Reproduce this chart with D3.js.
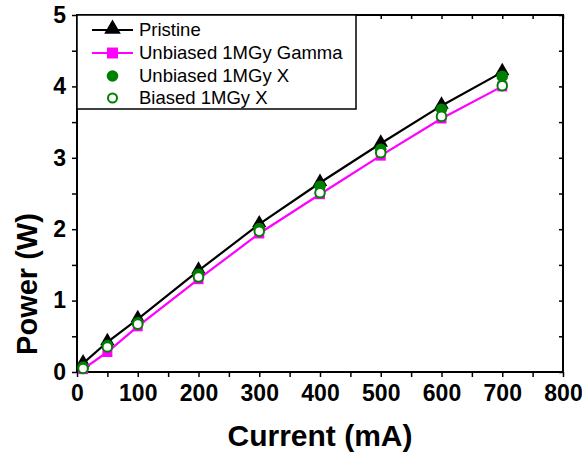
<!DOCTYPE html>
<html><head><meta charset="utf-8">
<script src="https://cdn.jsdelivr.net/npm/d3@7"></script>
<style>body{margin:0;background:#fff}svg{display:block}</style>
</head><body>
<script>
const currents = [10, 50, 100, 200, 300, 400, 500, 600, 700];
const pristine = [0.12, 0.42, 0.74, 1.42, 2.07, 2.65, 3.20, 3.73, 4.20];
const gamma = [0.04, 0.28, 0.64, 1.30, 1.94, 2.49, 3.03, 3.55, 4.00];
const unbiasedX = [0.07, 0.37, 0.69, 1.37, 2.01, 2.60, 3.12, 3.68, 4.14];
const biasedX = [0.05, 0.35, 0.67, 1.33, 1.97, 2.51, 3.07, 3.58, 4.01];
const xTicks = [0, 100, 200, 300, 400, 500, 600, 700, 800];
const yTicks = [0, 1, 2, 3, 4, 5];
const legendLabels = ["Pristine", "Unbiased 1MGy Gamma", "Unbiased 1MGy X", "Biased 1MGy X"];

const W = 582, H = 457;
const L = 77, R = 563, T = 15, B = 372;
const svg = d3.select("body").append("svg").attr("width", W).attr("height", H);
const x = d3.scaleLinear().domain([0, 800]).range([L, R]);
const y = d3.scaleLinear().domain([0, 5]).range([B, T]);
const font = "'Liberation Sans', Arial, sans-serif";
const green = "#008000", magenta = "#ff00ff";

const xMinor = d3.range(0, 801, 50);
const yMinor = d3.range(0, 5.01, 0.5);

// bottom axis
const gb = svg.append("g").attr("transform", `translate(0,${B})`)
  .call(d3.axisBottom(x).tickValues(xMinor).tickSize(5).tickFormat(""));
gb.select(".domain").remove();
gb.selectAll("line").attr("stroke-width", 1.5);
const gb2 = svg.append("g").attr("transform", `translate(0,${B})`)
  .call(d3.axisBottom(x).tickValues(xTicks).tickSize(0).tickPadding(13).tickFormat(d3.format("d")));
gb2.select(".domain").remove();
gb2.selectAll("text").attr("font-family", font).attr("font-weight", "bold").attr("font-size", 23).attr("fill", "#000");

// left axis
const gl = svg.append("g").attr("transform", `translate(${L},0)`)
  .call(d3.axisLeft(y).tickValues(yMinor).tickSize(5).tickFormat(""));
gl.select(".domain").remove();
gl.selectAll("line").attr("stroke-width", 1.5);
const gl2 = svg.append("g").attr("transform", `translate(${L},0)`)
  .call(d3.axisLeft(y).tickValues(yTicks).tickSize(0).tickPadding(11).tickFormat(d3.format("d")));
gl2.select(".domain").remove();
gl2.selectAll("text").attr("font-family", font).attr("font-weight", "bold").attr("font-size", 23).attr("fill", "#000");

// top and right mirror (inward ticks)
const gt = svg.append("g").attr("transform", `translate(0,${T})`)
  .call(d3.axisBottom(x).tickValues(xMinor).tickSize(4).tickFormat(""));
gt.select(".domain").remove();
gt.selectAll("line").attr("stroke-width", 1.5);
const gr = svg.append("g").attr("transform", `translate(${R},0)`)
  .call(d3.axisLeft(y).tickValues(yMinor).tickSize(4).tickFormat(""));
gr.select(".domain").remove();
gr.selectAll("line").attr("stroke-width", 1.5);

// frame
svg.append("rect").attr("x", L).attr("y", T).attr("width", R - L).attr("height", B - T)
  .attr("fill", "none").attr("stroke", "#000").attr("stroke-width", 2);

// axis titles
svg.append("text").attr("x", (L + R) / 2).attr("y", 446).attr("text-anchor", "middle")
  .attr("font-family", font).attr("font-weight", "bold").attr("font-size", 30).text("Current (mA)");
svg.append("text").attr("transform", "translate(37,284) rotate(-90)").attr("text-anchor", "middle")
  .attr("font-family", font).attr("font-weight", "bold").attr("font-size", 29).text("Power (W)");

const line = d3.line().x(d => x(d[0])).y(d => y(d[1]));
const zip = arr => currents.map((c, i) => [c, arr[i]]);
const tri = d3.symbol().type(d3.symbolTriangle).size(90);
const sq = d3.symbol().type(d3.symbolSquare).size(100);

// Pristine
svg.append("path").attr("d", line(zip(pristine))).attr("fill", "none").attr("stroke", "#000").attr("stroke-width", 2.2);
svg.append("g").selectAll("path").data(zip(pristine)).join("path")
  .attr("transform", d => `translate(${x(d[0])},${y(d[1]) - 1})`).attr("d", tri).attr("fill", "#000");
// Gamma
svg.append("path").attr("d", line(zip(gamma))).attr("fill", "none").attr("stroke", magenta).attr("stroke-width", 2.2);
svg.append("g").selectAll("path").data(zip(gamma)).join("path")
  .attr("transform", d => `translate(${x(d[0])},${y(d[1])})`).attr("d", sq).attr("fill", magenta);
// Unbiased X
svg.append("g").selectAll("circle").data(zip(unbiasedX)).join("circle")
  .attr("cx", d => x(d[0])).attr("cy", d => y(d[1])).attr("r", 5.8).attr("fill", green);
// Biased X
svg.append("g").selectAll("circle").data(zip(biasedX)).join("circle")
  .attr("cx", d => x(d[0])).attr("cy", d => y(d[1])).attr("r", 4.8).attr("fill", "#fff")
  .attr("stroke", green).attr("stroke-width", 2);

// legend
const lg = svg.append("g");
lg.append("rect").attr("x", L).attr("y", T).attr("width", 356 - L).attr("height", 109 - T)
  .attr("fill", "#fff").attr("stroke", "#000").attr("stroke-width", 1.5);
const rows = [30, 53, 76, 98];
const lx0 = 92, lx1 = 133, lxm = 112.5, tx = 139;
// row 0
lg.append("line").attr("x1", lx0).attr("x2", lx1).attr("y1", rows[0]).attr("y2", rows[0]).attr("stroke", "#000").attr("stroke-width", 2.2);
lg.append("path").attr("transform", `translate(${lxm},${rows[0] - 1})`).attr("d", d3.symbol().type(d3.symbolTriangle).size(120)).attr("fill", "#000");
// row 1
lg.append("line").attr("x1", lx0).attr("x2", lx1).attr("y1", rows[1]).attr("y2", rows[1]).attr("stroke", magenta).attr("stroke-width", 2.2);
lg.append("path").attr("transform", `translate(${lxm},${rows[1]})`).attr("d", d3.symbol().type(d3.symbolSquare).size(120)).attr("fill", magenta);
// row 2
lg.append("circle").attr("cx", lxm).attr("cy", rows[2]).attr("r", 5.8).attr("fill", green);
// row 3
lg.append("circle").attr("cx", lxm).attr("cy", rows[3]).attr("r", 4.5).attr("fill", "#fff").attr("stroke", green).attr("stroke-width", 2);
legendLabels.forEach((t, i) => {
  lg.append("text").attr("x", tx).attr("y", rows[i]).attr("dy", "0.35em")
    .attr("font-family", font).attr("font-size", 18.5).attr("fill", "#000").text(t);
});
</script>
</body></html>
